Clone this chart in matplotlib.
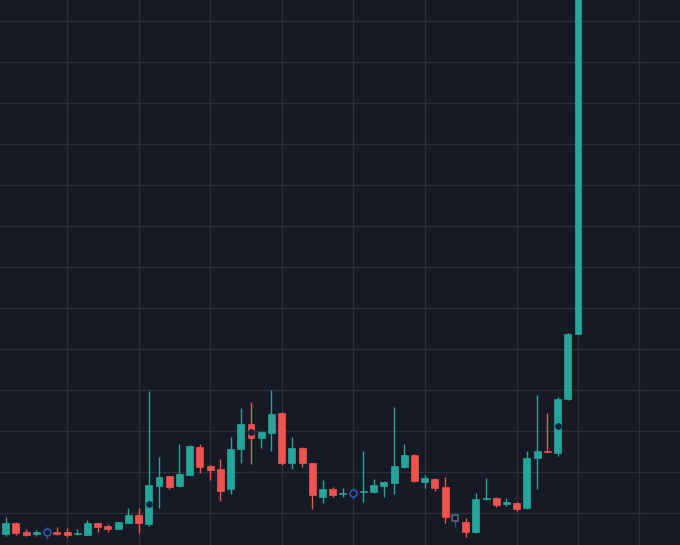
import matplotlib
matplotlib.use("Agg")
import matplotlib.pyplot as plt
import numpy as np

# OHLC values (price units; grid every 10)
opens = [4.9, 7.6, 5.4, 4.8, 5.4, 5.4, 5.3, 4.8, 4.7, 7.5,
         6.8, 6.1, 7.6, 9.5, 7.3, 16.6, 19.0, 16.6, 19.3, 26.2,
         21.5, 20.7, 15.8, 25.5, 31.8, 28.2, 29.4, 34.3, 22.3, 25.8,
         22.1, 14.0, 15.9, 14.6, 14.8, 15.0, 15.2, 16.6, 17.4, 21.3,
         24.1, 17.6, 18.4, 16.3, 8.7, 7.9, 5.4, 13.3, 13.6, 12.1,
         12.4, 11.1, 23.3, 25.2, 24.7, 37.7, 53.6]
highs = [9.0, 7.8, 6.1, 5.9, 6.6, 6.7, 6.3, 6.1, 8.3, 7.6,
         7.2, 7.9, 11.3, 11.1, 39.8, 23.7, 19.1, 26.8, 26.5, 26.8,
         21.7, 23.2, 28.5, 35.5, 37.1, 30.1, 40.0, 34.7, 28.6, 26.0,
         22.3, 18.0, 16.3, 16.0, 15.8, 25.0, 18.4, 17.7, 35.9, 26.8,
         24.3, 19.3, 18.5, 18.9, 9.5, 8.7, 14.8, 18.5, 13.8, 13.7,
         12.6, 25.0, 38.8, 34.3, 38.4, 53.9, 142.0]
lows = [4.5, 4.6, 4.4, 4.4, 3.7, 4.6, 4.2, 4.6, 4.6, 5.4,
        5.4, 6.0, 7.5, 5.2, 6.9, 11.3, 15.9, 16.4, 19.2, 19.7,
        18.0, 12.9, 14.6, 22.3, 22.0, 25.9, 25.0, 21.6, 20.8, 21.1,
        10.9, 12.5, 13.8, 14.0, 13.4, 12.8, 14.8, 13.8, 14.6, 20.9,
        17.6, 16.0, 15.4, 7.6, 6.7, 4.2, 5.2, 13.2, 11.5, 11.8,
        10.6, 10.9, 15.9, 24.6, 23.9, 37.6, 53.7]
closes = [7.6, 5.05, 4.6, 5.3, 5.4, 4.95, 4.6, 4.95, 7.5, 6.6,
          6.1, 7.8, 9.5, 7.5, 16.8, 18.8, 16.4, 19.4, 26.3, 21.3,
          20.4, 15.4, 25.7, 31.8, 28.2, 29.7, 34.1, 22.1, 25.8, 22.1,
          14.4, 15.9, 14.4, 14.8, 14.8, 15.4, 16.9, 17.6, 21.5, 24.2,
          17.8, 18.5, 16.0, 9.1, 8.7, 5.3, 13.4, 13.6, 12.0, 12.7,
          11.0, 23.5, 25.2, 24.8, 37.8, 53.7, 140.0]

# special marks: hollow circles, hollow square, dark dots (index, price)
circle_marks = [(4, 5.4), (34, 14.8)]
square_marks = [(44, 8.7)]
dot_marks = [(14, 12.1), (24, 29.8), (54, 31.3)]

# vertical grid positions (candle indices) and horizontal grid prices
vgrid = [6, 13, 20, 27, 34, 41, 50, 56, 62]
hgrid = list(range(10, 140, 10))

BG = "#161a25"
GRID = "#2b2f3b"
UP = "#26a69a"
DOWN = "#ef5350"

fig = plt.figure(figsize=(6.8, 5.45), dpi=100, facecolor=BG)
ax = fig.add_axes([0, 0, 1, 1])
ax.set_facecolor(BG)

for v in vgrid:
    ax.axvline(v, color=GRID, lw=1.0, zorder=0)
for h in hgrid:
    ax.axhline(h, color=GRID, lw=1.0, zorder=0)

x = np.arange(len(opens))
special = {i for i, _ in circle_marks + square_marks}
for i in x:
    o, h, l, c = opens[i], highs[i], lows[i], closes[i]
    col = UP if c >= o else DOWN
    if i in special:
        col = "#2f4f8f"
    ax.vlines(i, l, h, color=col, lw=1.0, zorder=2)
    if i in special:
        continue
    bottom = min(o, c)
    height = max(abs(c - o), 0.35)
    ax.bar(i, height, bottom=bottom, width=0.68, color=col, edgecolor=col,
           linewidth=0.5, zorder=3)

for i, p in circle_marks:
    ax.plot(i, p, marker="o", ms=5, mfc=BG, mec="#2c5cc5", mew=1.1, zorder=4)
for i, p in square_marks:
    ax.plot(i, p, marker="s", ms=5, mfc=BG, mec="#5a6b8c", mew=1.1, zorder=4)
for i, p in dot_marks:
    ax.plot(i, p, marker="o", ms=3.8, mfc="#12213d", mec="#12213d", zorder=4)

ax.set_xlim(-0.56, 65.98)
ax.set_ylim(2.195, 135.12)
ax.set_xticks([])
ax.set_yticks([])
for s in ax.spines.values():
    s.set_visible(False)

fig.savefig("out.png", dpi=100, facecolor=BG)
